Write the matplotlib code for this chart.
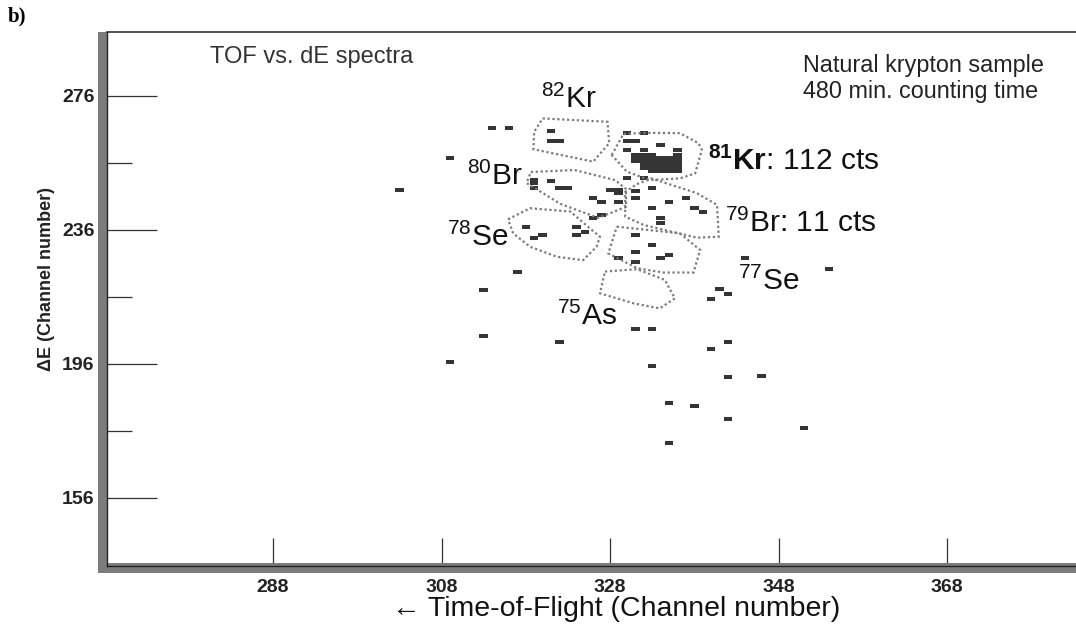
import matplotlib
matplotlib.use("Agg")
import matplotlib.pyplot as plt
from matplotlib.patches import Rectangle, Polygon

plt.rcParams['font.family'] = ['Liberation Sans', 'DejaVu Sans']
plt.rcParams['mathtext.fontset'] = 'custom'
plt.rcParams['mathtext.rm'] = 'Liberation Sans'
plt.rcParams['mathtext.bf'] = 'Liberation Sans:bold'

# single events (TOF channel, dE channel)
tof_ch = [303, 309, 314, 316, 317, 313, 313, 309, 322, 331, 333, 341, 342, 340,
          342, 340, 333, 342, 346, 335, 338, 342, 351, 335, 344, 354,
          # 82Kr gate
          321, 321, 322,
          # 80Br gate
          319, 319, 321, 319, 322, 323,
          # 78Se gate
          318, 319, 320, 324, 324, 325,
          # between gates
          326, 327, 329, 326, 327, 328, 329, 329,
          # 79Br gate
          330, 332, 331, 333, 331, 335, 337, 333, 338, 339, 334, 334,
          # 77Se gate
          331, 333, 331, 329, 331, 334, 335,
          # 81Kr gate, outer events
          330, 332, 330, 331, 334, 330, 332, 336]
de_ch = [248, 257.5, 266.5, 266.5, 223.5, 218, 204.5, 196.5, 202.5, 206.5, 206.5, 218.5, 217, 215.5,
         202.5, 200.5, 195.5, 192, 192.5, 184.5, 183.5, 179.5, 177, 172.5, 227.5, 224.5,
         265.5, 262.5, 262.5,
         251, 250, 250.5, 248.5, 248.5, 248.5,
         237, 233.5, 234.5, 237, 234.5, 235.5,
         245.5, 244.5, 244.5, 239.5, 240.5, 248, 248, 247,
         251.5, 251.5, 247.5, 248.5, 245.5, 244.5, 245.5, 242.5, 242.5, 241.5, 239.5, 238,
         234.5, 231.5, 229.5, 227.5, 226.5, 227.5, 228.5,
         265, 265, 262.5, 262.5, 261.5, 260, 260, 260]

# dense 81Kr peak, one row of TOF channels per dE channel
kr81_rows = [258.5, 257.5, 256.5, 255.5, 254.5, 253.5]
kr81_cols = [[331, 332, 333, 336],
             [331, 332, 333, 334, 335, 336],
             [331, 332, 333, 334, 335, 336],
             [332, 333, 334, 335, 336],
             [332, 333, 334, 335, 336],
             [333, 334, 335, 336]]

# identification gates (TOF, dE)
gate_kr82 = [(320.0, 269.3), (327.7, 268.3), (327.9, 261.9), (326.0, 256.4), (318.9, 260.1), (319.0, 265.3)]
gate_kr81 = [(328.2, 258.4), (329.6, 264.7), (332.4, 265.0), (336.3, 264.9), (338.5, 261.9),
             (338.9, 259.9), (338.1, 252.9), (336.3, 251.4), (332.7, 250.9), (330.0, 253.4)]
gate_br80 = [(318.6, 253.3), (323.8, 253.9), (328.6, 250.9), (329.9, 248.2), (329.9, 242.9),
             (326.6, 239.6), (322.1, 243.8), (318.1, 250.0)]
gate_br79 = [(331.2, 249.7), (332.9, 251.4), (338.3, 247.0), (340.7, 243.5), (340.9, 234.0),
             (338.3, 233.7), (332.0, 237.5), (329.8, 240.0), (329.8, 247.4)]
gate_se78 = [(315.9, 239.2), (318.5, 242.5), (323.3, 241.5), (325.6, 236.5), (326.8, 234.0),
             (326.4, 231.0), (324.8, 227.0), (321.7, 228.0), (318.5, 231.0), (316.5, 235.0)]
gate_se77 = [(328.8, 237.0), (336.3, 235.0), (338.7, 230.0), (337.9, 223.3), (334.3, 223.3),
             (331.2, 224.6), (327.8, 229.0)]
gate_as75 = [(327.4, 223.6), (331.2, 224.3), (334.5, 221.1), (335.7, 215.6), (333.9, 212.6),
             (330.8, 214.1), (326.8, 217.1)]
gates = [gate_kr82, gate_kr81, gate_br80, gate_br79, gate_se78, gate_se77, gate_as75]

gate_labels = [r'$^{82}$Kr', r'$^{\mathbf{81}}\mathbf{Kr}$: 112 cts', r'$^{80}$Br',
               r'$^{79}$Br: 11 cts', r'$^{78}$Se', r'$^{77}$Se', r'$^{75}$As']
label_pos = [(319.8, 272.4), (339.6, 253.9), (311.0, 249.4), (341.6, 235.4),
             (308.7, 231.2), (343.2, 218.1), (321.7, 207.6)]

x_ticks = [288, 308, 328, 348, 368]
y_major = [156, 196, 236, 276]
y_minor = [176, 216, 256]

W, H = 1076, 627
fig = plt.figure(figsize=(W / 100, H / 100), dpi=100)
ax = fig.add_axes([107 / W, 61 / H, 969 / W, 534 / H])
ax.set_xlim(268.3, 383.3)
ax.set_ylim(135.7, 295.1)

ev_col = '#353535'
h = 1.2
ax.bar(tof_ch, h, width=1.0, bottom=[d - h / 2 for d in de_ch], color=ev_col, linewidth=0)
for row, cols in zip(kr81_rows, kr81_cols):
    ax.bar(cols, h, width=1.0, bottom=row - h / 2, color=ev_col, linewidth=0)

for g in gates:
    ax.add_patch(Polygon(g, closed=True, fill=False, edgecolor='#7a7a7a',
                         linewidth=1.6, linestyle=(0, (1, 1.2))))

for txt, (x, y) in zip(gate_labels, label_pos):
    ax.text(x, y, txt, fontsize=21.5, ha='left', va='baseline', color='#111111')

ax.text(0.106, 0.953, 'TOF vs. dE spectra', transform=ax.transAxes, fontsize=17,
        ha='left', va='center', color='#333333')
ax.text(0.718, 0.913, 'Natural krypton sample\n480 min. counting time', transform=ax.transAxes,
        fontsize=16.8, ha='left', va='center', color='#222222', linespacing=1.15)

# axes frame: thick grey bars on left and bottom, thin top line
ax.spines['right'].set_visible(False)
ax.spines['top'].set_linewidth(1.2)
ax.spines['top'].set_color('#333333')
for sp in ['left', 'bottom']:
    ax.spines[sp].set_linewidth(1.0)
    ax.spines[sp].set_color('#222222')
    ax.spines[sp].set_zorder(3)
ax.add_patch(Rectangle((98 / W, (H - 573) / H), 10 / W, (573 - 32) / H, transform=fig.transFigure,
                       facecolor='#7c7c7c', edgecolor='none', clip_on=False, zorder=2.4))
ax.add_patch(Rectangle((98 / W, (H - 573) / H), (W - 98) / W, 10 / H, transform=fig.transFigure,
                       facecolor='#7c7c7c', edgecolor='none', clip_on=False, zorder=2.4))

tick_font = dict(family='Liberation Sans', weight='bold', size=14)
ax.set_xticks(x_ticks)
ax.set_xticklabels([str(t) for t in x_ticks], fontdict=tick_font)
ax.set_yticks(y_major)
ax.set_yticklabels([str(t) for t in y_major], fontdict=tick_font)
ax.set_yticks(y_minor, minor=True)
ax.tick_params(axis='x', direction='in', length=20, width=0.9, color='#333333', pad=9,
               labelcolor='#222222')
ax.tick_params(axis='y', which='major', direction='in', length=36, width=0.9, color='#333333',
               pad=9, labelcolor='#222222')
ax.tick_params(axis='y', which='minor', direction='in', length=18, width=0.9, color='#333333')

ax.set_xlabel('\u2190 Time-of-Flight (Channel number)', fontsize=20.5, color='#111111')
ax.xaxis.set_label_coords(0.525, -0.056)
ax.set_ylabel('\u0394E (Channel number)', weight='bold', fontsize=13, color='#222222')
ax.yaxis.set_label_coords(-0.054, 0.538)

fig.text(8 / W, 1 - 6 / H, 'b)', family='Liberation Serif', weight='bold', fontsize=15,
         ha='left', va='top')

fig.savefig('out.png', dpi=100, facecolor='white')
